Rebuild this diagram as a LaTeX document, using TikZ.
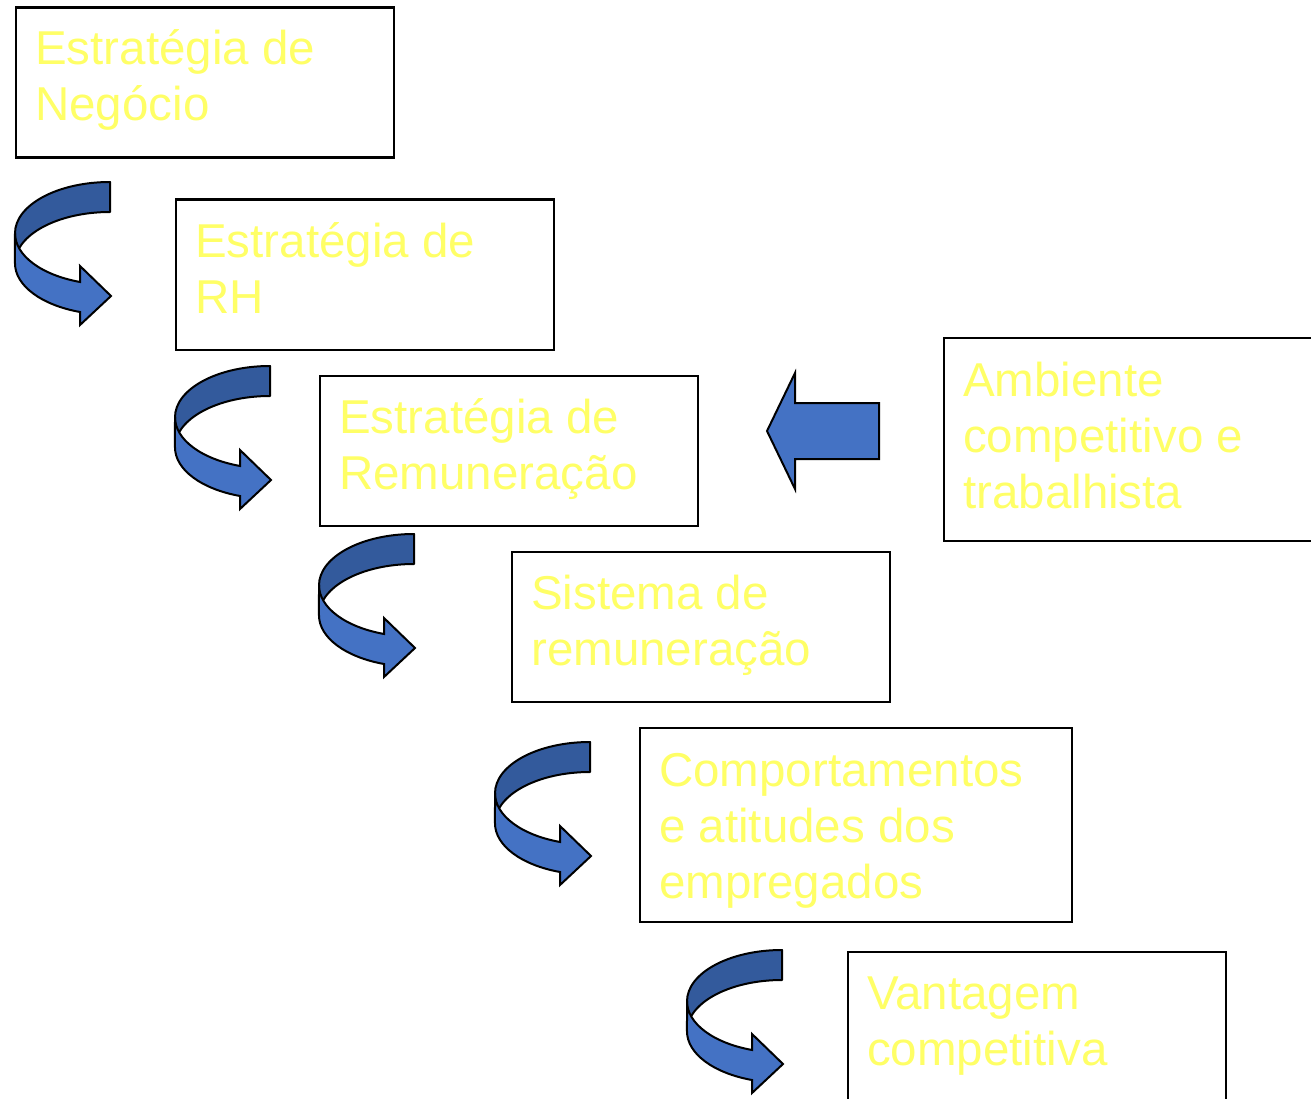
\documentclass[tikz,border=0pt]{standalone}
\usepackage{fontspec}
\setmainfont{Liberation Sans}
\definecolor{txtyel}{HTML}{FFFF66}
\definecolor{frontblue}{HTML}{4472C4}
\definecolor{backblue}{HTML}{335A9C}
\begin{document}
\begin{tikzpicture}[x=1pt,y=-1pt,
  box/.style={draw=black, line width=2.6pt, anchor=north west, inner sep=0pt, minimum width=#1},
  lbl/.style={anchor=base west, align=left, inner sep=0pt, text=txtyel, font=\fontsize{47.5}{56}\selectfont},
  bandback/.style={fill=backblue, draw=black, line width=2pt, line join=round},
  bandfront/.style={fill=frontblue, draw=black, line width=2pt, line join=miter},
]
\useasboundingbox (0,0) rectangle (1311,1099);
\clip (0,0) rectangle (1311,1099);

\newcommand\curvedarrow[2]{%
  \begin{scope}[shift={(#1,#2)}]
    \path[bandback] (110,182) arc[start angle=270,end angle=180,x radius=95,y radius=51.3]
      -- (15,263.3) arc[start angle=180,end angle=270,x radius=95,y radius=51.3] -- cycle;
    \path[bandfront] (15,233.3) arc[start angle=180,end angle=108.4,x radius=95,y radius=51.3]
      -- (80,266) -- (111,296) -- (80,325) -- (80,312)
      arc[start angle=108.4,end angle=180,x radius=95,y radius=51.3] -- cycle;
  \end{scope}}

% boxes
\node[box=378pt, minimum height=150pt] (b1) at (14.5,6.5) {};
\node[box=378pt, minimum height=150pt] (b2) at (174.5,198.5) {};
\node[box=378pt, minimum height=150pt] (b3) at (318.5,374.5) {};
\node[box=378pt, minimum height=150pt] (b4) at (510.5,550.5) {};
\node[box=432pt, minimum height=194pt] (b5) at (638.5,726.5) {};
\node[box=378pt, minimum height=200pt] (b6) at (846.5,950.5) {};
\node[box=400pt, minimum height=203pt] (b7) at (942.5,336.5) {};

% labels (base anchor = last line)
\node[lbl] (t1) at ([shift={(20.5,114.5)}]b1.north west) {Estratégia de\\Negócio};
\node[lbl] (t2) at ([shift={(20.5,114.5)}]b2.north west) {Estratégia de\\RH};
\node[lbl] (t3) at ([shift={(20.5,114.5)}]b3.north west) {Estratégia de\\Remuneração};
\node[lbl] (t4) at ([shift={(20.5,114.5)}]b4.north west) {Sistema de\\remuneração};
\node[lbl] (t5) at ([shift={(20.5,171.5)}]b5.north west) {Comportamentos\\e atitudes dos\\empregados};
\node[lbl] (t6) at ([shift={(20.5,114.5)}]b6.north west) {Vantagem\\competitiva};
\node[lbl] (t7) at ([shift={(20.5,171.5)}]b7.north west) {Ambiente\\competitivo e\\trabalhista};

% curved arrows
\curvedarrow{0}{0}
\curvedarrow{160}{184}
\curvedarrow{304}{352}
\curvedarrow{480}{560}
\curvedarrow{672}{768}

% block arrow from environment
\path[bandfront] (879,403) -- (795,403) -- (795,373) -- (767,431) -- (795,489) -- (795,459) -- (879,459) -- cycle;
\end{tikzpicture}
\end{document}
